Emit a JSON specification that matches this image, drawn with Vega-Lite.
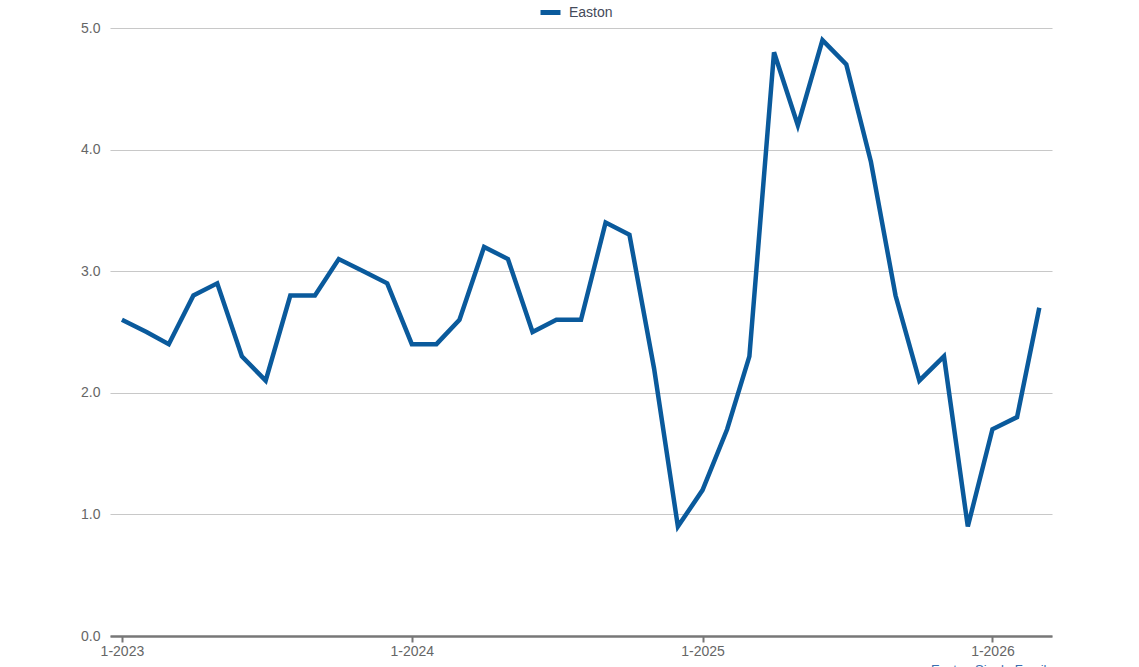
{
  "$schema": "https://vega.github.io/schema/vega-lite/v6.json",
  "width": 942,
  "height": 608,
  "autosize": {"type": "none"},
  "padding": {"left": 110, "top": 28, "right": 87, "bottom": 31},
  "background": "white",
  "config": {
    "view": {"stroke": null},
    "font": "Liberation Sans"
  },
  "title": {
    "text": "Easton Single Family",
    "orient": "bottom",
    "anchor": "end",
    "offset": 6,
    "dx": 1,
    "fontSize": 13,
    "fontWeight": "normal",
    "color": "#3a6fb0"
  },
  "data": {
    "values": [
      {"date": "2023-01-01", "value": 2.6, "series": "Easton"},
      {"date": "2023-02-01", "value": 2.5, "series": "Easton"},
      {"date": "2023-03-01", "value": 2.4, "series": "Easton"},
      {"date": "2023-04-01", "value": 2.8, "series": "Easton"},
      {"date": "2023-05-01", "value": 2.9, "series": "Easton"},
      {"date": "2023-06-01", "value": 2.3, "series": "Easton"},
      {"date": "2023-07-01", "value": 2.1, "series": "Easton"},
      {"date": "2023-08-01", "value": 2.8, "series": "Easton"},
      {"date": "2023-09-01", "value": 2.8, "series": "Easton"},
      {"date": "2023-10-01", "value": 3.1, "series": "Easton"},
      {"date": "2023-11-01", "value": 3.0, "series": "Easton"},
      {"date": "2023-12-01", "value": 2.9, "series": "Easton"},
      {"date": "2024-01-01", "value": 2.4, "series": "Easton"},
      {"date": "2024-02-01", "value": 2.4, "series": "Easton"},
      {"date": "2024-03-01", "value": 2.6, "series": "Easton"},
      {"date": "2024-04-01", "value": 3.2, "series": "Easton"},
      {"date": "2024-05-01", "value": 3.1, "series": "Easton"},
      {"date": "2024-06-01", "value": 2.5, "series": "Easton"},
      {"date": "2024-07-01", "value": 2.6, "series": "Easton"},
      {"date": "2024-08-01", "value": 2.6, "series": "Easton"},
      {"date": "2024-09-01", "value": 3.4, "series": "Easton"},
      {"date": "2024-10-01", "value": 3.3, "series": "Easton"},
      {"date": "2024-11-01", "value": 2.2, "series": "Easton"},
      {"date": "2024-12-01", "value": 0.9, "series": "Easton"},
      {"date": "2025-01-01", "value": 1.2, "series": "Easton"},
      {"date": "2025-02-01", "value": 1.7, "series": "Easton"},
      {"date": "2025-03-01", "value": 2.3, "series": "Easton"},
      {"date": "2025-04-01", "value": 4.8, "series": "Easton"},
      {"date": "2025-05-01", "value": 4.2, "series": "Easton"},
      {"date": "2025-06-01", "value": 4.9, "series": "Easton"},
      {"date": "2025-07-01", "value": 4.7, "series": "Easton"},
      {"date": "2025-08-01", "value": 3.9, "series": "Easton"},
      {"date": "2025-09-01", "value": 2.8, "series": "Easton"},
      {"date": "2025-10-01", "value": 2.1, "series": "Easton"},
      {"date": "2025-11-01", "value": 2.3, "series": "Easton"},
      {"date": "2025-12-01", "value": 0.9, "series": "Easton"},
      {"date": "2026-01-01", "value": 1.7, "series": "Easton"},
      {"date": "2026-02-01", "value": 1.8, "series": "Easton"},
      {"date": "2026-03-01", "value": 2.7, "series": "Easton"}
    ]
  },
  "mark": {"type": "line", "strokeWidth": 4.5, "strokeJoin": "miter", "strokeCap": "butt"},
  "encoding": {
    "x": {
      "field": "date",
      "type": "temporal",
      "scale": {
        "type": "utc",
        "domain": [
          {"year": 2022, "month": 12, "date": 17, "utc": true},
          {"year": 2026, "month": 3, "date": 17, "utc": true}
        ]
      },
      "axis": {
        "title": null,
        "values": [
          {"year": 2023, "month": 1, "date": 1, "utc": true},
          {"year": 2024, "month": 1, "date": 1, "utc": true},
          {"year": 2025, "month": 1, "date": 1, "utc": true},
          {"year": 2026, "month": 1, "date": 1, "utc": true}
        ],
        "labelExpr": "utcFormat(datum.value, '%-m-%Y')",
        "grid": false,
        "domainColor": "#777777",
        "domainWidth": 2.5,
        "tickColor": "#777777",
        "tickWidth": 2,
        "tickSize": 6,
        "labelColor": "#666666",
        "labelFontSize": 14,
        "labelPadding": 2,
        "labelFlush": false
      }
    },
    "y": {
      "field": "value",
      "type": "quantitative",
      "scale": {"domain": [0, 5], "nice": false, "zero": true},
      "axis": {
        "title": null,
        "values": [0, 1, 2, 3, 4, 5],
        "format": ".1f",
        "domain": false,
        "ticks": false,
        "gridColor": "#c8c8c8",
        "gridWidth": 1.2,
        "labelColor": "#666666",
        "labelFontSize": 14,
        "labelPadding": 10
      }
    },
    "color": {
      "field": "series",
      "type": "nominal",
      "scale": {"range": ["#0a5a9c"]},
      "legend": {
        "title": null,
        "orient": "none",
        "legendX": 428,
        "legendY": -28,
        "direction": "horizontal",
        "symbolType": "stroke",
        "symbolSize": 400,
        "symbolStrokeWidth": 5,
        "labelFontSize": 14,
        "labelColor": "#444a5a",
        "labelOffset": 6
      }
    }
  }
}
